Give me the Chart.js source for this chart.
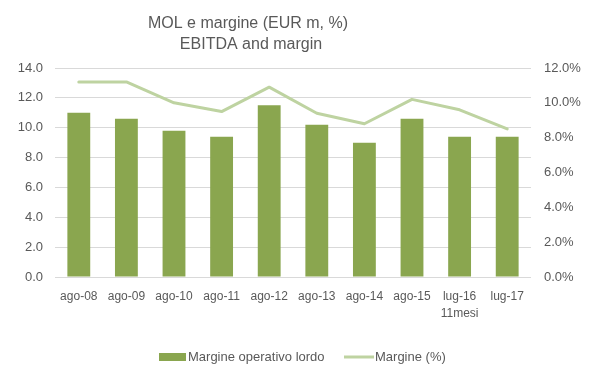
<!DOCTYPE html>
<html><head><meta charset="utf-8">
<script src="https://cdn.jsdelivr.net/npm/chart.js@4"></script>
<style>html,body{margin:0;padding:0;background:#fff}#wrap{width:599px;height:378px}</style>
</head><body><div id="wrap"><canvas id="c" width="599" height="378"></canvas></div>
<script>
const titleLines = ['MOL e margine (EUR m, %)', 'EBITDA and margin'];
const categories = ['ago-08', 'ago-09', 'ago-10', 'ago-11', 'ago-12', 'ago-13', 'ago-14', 'ago-15', ['lug-16', '11mesi'], 'lug-17'];
const seriesNames = ['Margine operativo lordo', 'Margine (%)'];
const ebitda = [11.0, 10.6, 9.8, 9.4, 11.5, 10.2, 9.0, 10.6, 9.4, 9.4];
const marginPct = [11.2, 11.2, 10.0, 9.5, 10.9, 9.4, 8.8, 10.2, 9.6, 8.5];
const leftTickValues = [0, 2, 4, 6, 8, 10, 12, 14];
const rightTickValues = [0, 2, 4, 6, 8, 10, 12];

const BAR = '#8AA64F', LINE = '#BED3A1', TXT = '#595959', GRID = '#D9D9D9';
const FONT = "'Liberation Sans', Arial, sans-serif";

const decor = {
  id: 'decor',
  afterDraw(chart) {
    const ctx = chart.ctx;
    ctx.save();
    ctx.fillStyle = TXT;
    ctx.textAlign = 'center';
    ctx.textBaseline = 'middle';
    ctx.font = '16px ' + FONT;
    ctx.fillText(titleLines[0], 248, 24);
    ctx.fillText(titleLines[1], 251, 45);
    // legend
    const ly = 357;
    ctx.font = '13px ' + FONT;
    ctx.textAlign = 'left';
    ctx.fillStyle = BAR;
    ctx.fillRect(159, ly - 4, 27, 8);
    ctx.fillStyle = TXT;
    ctx.fillText(chart.data.datasets[0].label, 188, ly);
    ctx.strokeStyle = LINE;
    ctx.lineWidth = 3;
    ctx.beginPath();
    ctx.moveTo(344, ly);
    ctx.lineTo(374, ly);
    ctx.stroke();
    ctx.fillText(chart.data.datasets[1].label, 375, ly);
    ctx.restore();
  }
};

new Chart(document.getElementById('c'), {
  data: {
    labels: categories,
    datasets: [
      { type: 'bar', label: seriesNames[0], data: ebitda, backgroundColor: BAR, yAxisID: 'y', order: 2,
        categoryPercentage: 1, barPercentage: 0.48 },
      { type: 'line', label: seriesNames[1], data: marginPct, borderColor: LINE, borderWidth: 3, pointRadius: 0,
        tension: 0, fill: false, yAxisID: 'y1', order: 1, borderCapStyle: 'round', borderJoinStyle: 'round' }
    ]
  },
  options: {
    responsive: false,
    devicePixelRatio: 1,
    animation: false,
    layout: { padding: { top: 68, left: 0, right: 0, bottom: 0 } },
    plugins: { legend: { display: false }, title: { display: false }, tooltip: { enabled: false } },
    scales: {
      x: {
        grid: { display: false },
        border: { display: false },
        ticks: { color: TXT, font: { family: FONT, size: 12, lineHeight: 1.4 }, padding: 3, maxRotation: 0, autoSkip: false },
        afterFit(s) { s.height = 101; }
      },
      y: {
        position: 'left', min: 0, max: 14,
        afterBuildTicks(s) { s.ticks = leftTickValues.map(v => ({ value: v })); },
        grid: { color: GRID, lineWidth: 1, drawTicks: false },
        border: { display: false },
        ticks: { color: TXT, font: { family: FONT, size: 13 }, padding: 12, callback: v => v.toFixed(1) },
        afterFit(s) { s.width = 55; }
      },
      y1: {
        position: 'right', min: 0, max: 12,
        afterBuildTicks(s) { s.ticks = rightTickValues.map(v => ({ value: v })); },
        grid: { display: false, drawTicks: false },
        border: { display: false },
        ticks: { color: TXT, font: { family: FONT, size: 13 }, padding: 13, callback: v => v.toFixed(1) + '%' },
        afterFit(s) { s.width = 68; }
      }
    }
  },
  plugins: [decor]
});
</script>
</body></html>
